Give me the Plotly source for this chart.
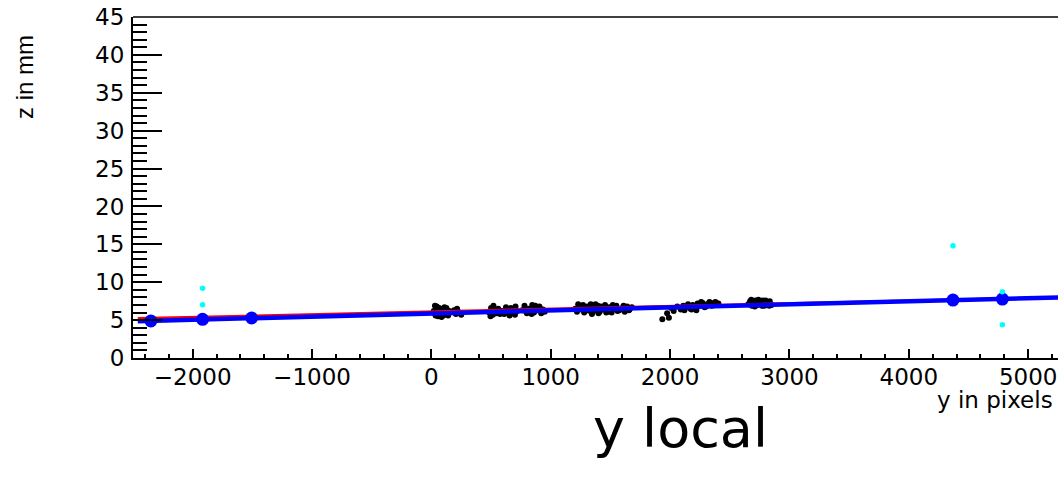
import plotly.graph_objects as go

# ---- data ----
hits_y = [
    # cluster around 0..250
    20, 35, 45, 60, 70, 85, 95, 110, 120, 135, 145, 30, 55, 80, 100, 125, 150, 40, 65, 90, 115, 140, 190, 205, 225, 240, 250, 215,
    # cluster 480..960
    485, 500, 515, 530, 545, 560, 590, 610, 625, 640, 655, 670, 690, 705, 720, 760, 780, 800, 815, 830, 845, 860, 875, 890, 905, 920, 935, 950, 495, 520, 575, 635, 665, 700, 795, 840, 870, 910, 940,
    # cluster 1200..1690
    1205, 1220, 1240, 1255, 1270, 1290, 1305, 1320, 1335, 1350, 1365, 1380, 1395, 1410, 1425, 1440, 1455, 1470, 1490, 1510, 1530, 1550, 1575, 1600, 1620, 1640, 1660, 1680, 1230, 1280, 1330, 1375, 1420, 1465, 1520, 1560, 1610, 1655, 1345, 1400, 1480,
    # cluster 1930..2410
    1935, 1975, 1990, 2010, 2030, 2060, 2090, 2110, 2130, 2150, 2170, 2190, 2210, 2230, 2250, 2270, 2290, 2310, 2330, 2350, 2370, 2390, 2405, 2220, 2260, 2300, 2340, 2380, 2120, 2180,
    # cluster 2650..2860
    2655, 2670, 2685, 2700, 2715, 2730, 2745, 2760, 2775, 2790, 2805, 2820, 2835, 2850, 2680, 2710, 2740, 2770, 2800, 2830, 2690, 2750, 2810,
]
hits_z = [
    6.2, 5.6, 6.8, 5.9, 6.5, 5.4, 6.1, 6.7, 5.7, 6.3, 5.9, 6.9, 5.5, 6.0, 5.8, 6.6, 6.2, 6.4, 6.6, 5.5, 6.0, 5.6, 6.3, 5.8, 6.1, 5.9, 5.7, 6.5,
    6.0, 6.6, 5.7, 6.3, 5.9, 6.5, 6.2, 5.8, 6.7, 6.1, 5.6, 6.4, 6.0, 6.8, 6.2, 6.3, 6.9, 5.9, 6.5, 6.2, 7.0, 6.0, 6.6, 6.3, 6.8, 5.9, 6.4, 6.1, 5.5, 6.9, 5.8, 6.5, 6.6, 5.7, 6.1, 5.8, 6.9, 6.5, 6.2,
    6.5, 6.1, 6.9, 6.4, 7.0, 6.2, 6.8, 6.5, 7.1, 6.0, 6.7, 6.3, 6.9, 6.1, 6.6, 6.4, 7.0, 6.2, 6.7, 6.0, 6.5, 6.9, 6.3, 6.6, 6.1, 6.8, 6.4, 6.7, 7.1, 6.0, 6.2, 7.1, 6.8, 6.0, 7.0, 6.2, 6.9, 6.3, 5.8, 5.9, 6.1,
    5.1, 5.9, 5.3, 6.6, 6.2, 6.8, 6.4, 6.9, 6.7, 7.1, 6.5, 7.0, 6.6, 7.2, 6.9, 7.3, 6.7, 7.1, 7.4, 6.9, 7.3, 7.0, 7.2, 6.3, 7.4, 6.8, 7.0, 7.4, 6.3, 6.4,
    7.1, 7.5, 6.9, 7.3, 7.6, 7.0, 7.4, 7.2, 7.6, 6.9, 7.3, 7.1, 7.5, 7.0, 7.7, 6.8, 7.7, 6.9, 7.6, 6.9, 7.2, 7.1, 7.0,
]

local_y = [-2350, -1917, -1506, 4370, 4784]
local_z = [4.88, 5.10, 5.28, 7.65, 7.78]

extra_y = [-1917, -1917, 4370, 4784, 4784]
extra_z = [9.2, 7.03, 14.8, 8.75, 4.4]

# fit results (intercept, slope)
red_fit = (6.12, 0.00036)
blue_fit = (5.86, 0.000405)
fit_span = [-2460, 5400]

x_ticks = [-2000, -1000, 0, 1000, 2000, 3000, 4000, 5000]
y_ticks = [0, 5, 10, 15, 20, 25, 30, 35, 40, 45]

# ---- figure ----
W, H = 1058, 477
L, R, T, B = 133, 0, 17, 119
pw, ph = W - L - R, H - T - B

def px_x(px):
    return (px - L) / pw

def px_y(py):
    return (H - B - py) / ph

fig = go.Figure()

fig.add_trace(go.Scatter(x=hits_y, y=hits_z, mode="markers",
                         marker=dict(color="black", size=6, line=dict(width=0)),
                         showlegend=False, hoverinfo="skip"))

fig.add_trace(go.Scatter(x=fit_span, y=[red_fit[0] + red_fit[1] * v for v in fit_span],
                         mode="lines", line=dict(color="#ff0000", width=2.5),
                         showlegend=False, hoverinfo="skip"))
fig.add_trace(go.Scatter(x=fit_span, y=[blue_fit[0] + blue_fit[1] * v for v in fit_span],
                         mode="lines", line=dict(color="#0000ff", width=4.5),
                         showlegend=False, hoverinfo="skip"))

fig.add_trace(go.Scatter(x=local_y, y=local_z, mode="markers",
                         marker=dict(color="#0000ff", size=13, line=dict(width=0)),
                         showlegend=False, hoverinfo="skip"))
fig.add_trace(go.Scatter(x=extra_y, y=extra_z, mode="markers",
                         marker=dict(color="#00ffff", size=5.5, line=dict(width=0)),
                         showlegend=False, hoverinfo="skip"))

tick_font = dict(family="DejaVu Sans, Verdana, sans-serif", size=23, color="black")
ztitle_font = dict(family="Liberation Sans, Arial, sans-serif", size=24, color="black")

fig.update_xaxes(range=[-2500, 5250], tickvals=x_ticks, ticks="inside", ticklen=9,
                 tickwidth=1.5, tickcolor="black", showline=True, linecolor="black",
                 linewidth=2, showgrid=False, zeroline=False, tickfont=tick_font,
                 ticklabelstandoff=-3,
                 minor=dict(dtick=200, tick0=0, ticks="inside", ticklen=4.5,
                            tickwidth=1.5, tickcolor="black", showgrid=False))
fig.update_yaxes(range=[0, 45], tickvals=y_ticks, ticks="inside", ticklen=29,
                 tickwidth=1.5, tickcolor="black", showline=True, linecolor="black",
                 linewidth=2, showgrid=False, zeroline=False, tickfont=tick_font,
                 ticklabelstandoff=2,
                 minor=dict(dtick=1, tick0=0, ticks="inside", ticklen=14,
                            tickwidth=1.5, tickcolor="black", showgrid=False))

# top frame line
fig.add_shape(type="line", xref="paper", yref="paper", x0=0, x1=1, y0=1, y1=1,
              line=dict(color="black", width=1.5))

fig.add_annotation(text="y in pixels", xref="paper", yref="paper",
                   x=px_x(1055), y=px_y(400), xanchor="right", yanchor="middle",
                   showarrow=False, font=tick_font)
fig.add_annotation(text="z in mm", xref="paper", yref="paper",
                   x=px_x(25), y=px_y(33), xanchor="center", yanchor="top",
                   textangle=-90, showarrow=False, font=ztitle_font)
fig.add_annotation(text="y local", xref="paper", yref="paper",
                   x=px_x(680), y=px_y(428), xanchor="center", yanchor="middle",
                   showarrow=False,
                   font=dict(family="DejaVu Sans, Verdana, sans-serif", size=54, color="black"))

fig.update_layout(width=W, height=H, margin=dict(l=L, r=R, t=T, b=B, pad=0),
                  paper_bgcolor="white", plot_bgcolor="white", showlegend=False)

fig.write_html("out.html", config={"displayModeBar": False},
               post_script="document.body.style.margin='0px';document.body.style.overflow='hidden';")
